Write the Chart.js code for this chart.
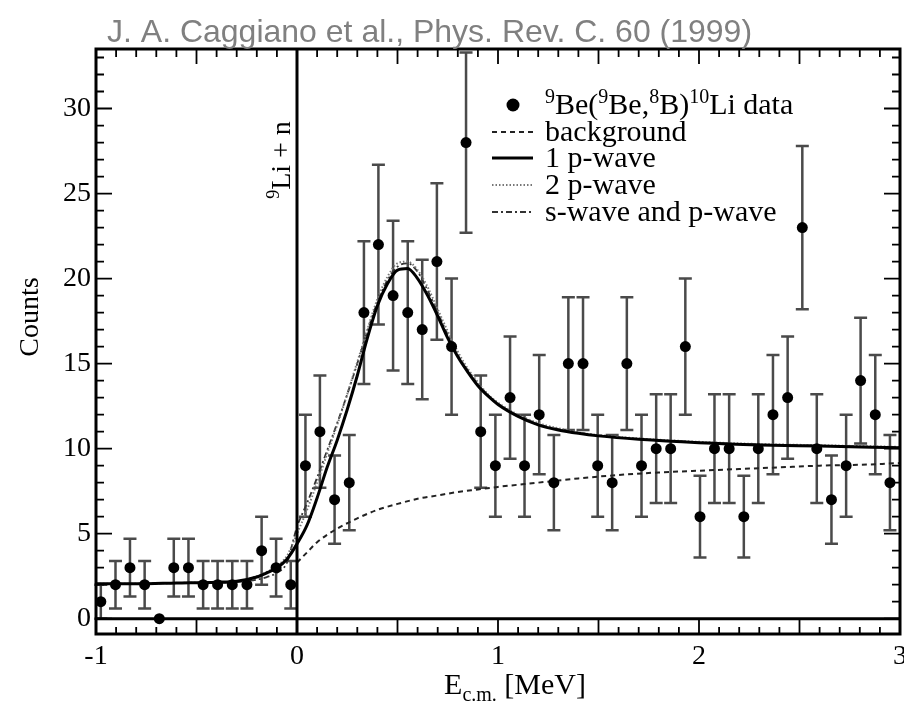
<!DOCTYPE html>
<html lang="en">
<head>
<meta charset="UTF-8">
<title>10Li spectrum</title>
<script src="https://cdn.jsdelivr.net/npm/chart.js@4"></script>
<style>
  body { margin: 0; background: #fff; }
  canvas { display: block; }
</style>
</head>
<body>
<canvas id="spectrum" width="904" height="704"></canvas>
<script>
// measured points (E in MeV, counts, +/- error)
const energy = [-0.976, -0.903, -0.831, -0.758, -0.685, -0.613, -0.540, -0.467, -0.395, -0.322, -0.249, -0.176, -0.104, -0.031,
  0.042, 0.114, 0.187, 0.260, 0.333, 0.405, 0.478, 0.551, 0.623, 0.696, 0.769, 0.841, 0.914, 0.987,
  1.060, 1.132, 1.205, 1.278, 1.350, 1.423, 1.496, 1.568, 1.641, 1.714, 1.787, 1.859, 1.932, 2.005,
  2.077, 2.150, 2.223, 2.295, 2.368, 2.441, 2.514, 2.586, 2.659, 2.732, 2.804, 2.877, 2.950];
const counts = [1, 2, 3, 2, 0, 3, 3, 2, 2, 2, 2, 4, 3, 2,
  9, 11, 7, 8, 18, 22, 19, 18, 17, 21, 16, 28, 11, 9,
  13, 9, 12, 8, 15, 15, 9, 8, 15, 9, 10, 10, 16, 6,
  10, 10, 6, 10, 12, 13, 23, 10, 7, 9, 14, 12, 8];
const errors = [1.0, 1.4, 1.7, 1.4, 0, 1.7, 1.7, 1.4, 1.4, 1.4, 1.4, 2.0, 1.7, 1.4,
  3.0, 3.3, 2.6, 2.8, 4.2, 4.7, 4.4, 4.2, 4.1, 4.6, 4.0, 5.3, 3.3, 3.0,
  3.6, 3.0, 3.5, 2.8, 3.9, 3.9, 3.0, 2.8, 3.9, 3.0, 3.2, 3.2, 4.0, 2.4,
  3.2, 3.2, 2.4, 3.2, 3.5, 3.6, 4.8, 3.2, 2.6, 3.0, 3.7, 3.5, 2.8];

// fit curves
const curveE = [-1.0, -0.8, -0.6, -0.4, -0.3, -0.2, -0.15, -0.1, -0.05, 0, 0.05, 0.1, 0.15, 0.2, 0.25, 0.3, 0.35, 0.4, 0.45, 0.5,
  0.55, 0.6, 0.65, 0.7, 0.75, 0.8, 0.85, 0.9, 0.95, 1.0, 1.1, 1.2, 1.3, 1.4, 1.5, 1.7, 2.0, 2.3, 2.6, 3.0];
const onePWave = [2.05, 2.05, 2.1, 2.15, 2.2, 2.45, 2.7, 3.0, 3.5, 4.4, 5.5, 7.1, 8.9, 10.5, 12.3, 14.3, 16.5, 18.4, 19.7, 20.5,
  20.6, 20.0, 19.0, 17.8, 16.5, 15.4, 14.5, 13.7, 13.1, 12.6, 11.9, 11.4, 11.1, 10.9, 10.75, 10.55, 10.35, 10.22, 10.15, 10.05];
const twoPWave = [2.05, 2.05, 2.1, 2.15, 2.2, 2.5, 2.75, 3.1, 3.7, 5.0, 6.4, 8.0, 9.7, 11.4, 13.2, 15.1, 17.0, 18.8, 20.1, 20.9,
  21.0, 20.5, 19.5, 18.2, 16.9, 15.7, 14.7, 13.9, 13.2, 12.7, 12.0, 11.5, 11.2, 10.95, 10.8, 10.6, 10.4, 10.27, 10.2, 10.1];
const spWave = [2.05, 2.05, 2.1, 2.1, 2.15, 2.3, 2.45, 2.7, 3.3, 5.4, 6.8, 8.3, 9.9, 11.5, 13.2, 15.0, 16.9, 18.6, 19.9, 20.7,
  20.9, 20.4, 19.3, 18.0, 16.7, 15.5, 14.6, 13.8, 13.15, 12.65, 11.95, 11.45, 11.15, 10.92, 10.78, 10.57, 10.37, 10.24, 10.17, 10.07];
const bgE = [0, 0.05, 0.1, 0.2, 0.3, 0.4, 0.5, 0.6, 0.7, 0.8, 0.9, 1.0, 1.2, 1.4, 1.6, 1.8, 2.0, 2.2, 2.4, 2.6, 2.8, 3.0];
const bgCounts = [3.3, 3.9, 4.5, 5.3, 5.9, 6.4, 6.75, 7.05, 7.25, 7.45, 7.6, 7.75, 8.0, 8.25, 8.45, 8.6, 8.7, 8.8, 8.9, 9.0, 9.05, 9.15];

const xTicks = [-1, 0, 1, 2, 3];
const yTicks = [0, 5, 10, 15, 20, 25, 30];

const SERIF = '"Liberation Serif", "DejaVu Serif", serif';
const toXY = (xs, ys) => xs.map((x, i) => ({ x: x, y: ys[i] }));

// text with super/subscripts: parts = [[text, 'n'|'sup'|'sub'], ...]
function richWidth(ctx, parts, size) {
  let w = 0;
  parts.forEach(([t, k]) => {
    ctx.font = (k === 'n' ? size : Math.round(size * 0.65)) + 'px ' + SERIF;
    w += ctx.measureText(t).width;
  });
  return w;
}
function drawRich(ctx, parts, x, y, size) {
  ctx.textBaseline = 'alphabetic';
  ctx.textAlign = 'left';
  parts.forEach(([t, k]) => {
    const s = k === 'n' ? size : Math.round(size * 0.65);
    ctx.font = s + 'px ' + SERIF;
    const dy = k === 'sup' ? -size * 0.38 : (k === 'sub' ? size * 0.22 : 0);
    ctx.fillText(t, x, y + dy);
    x += ctx.measureText(t).width;
  });
}

const errorBars = {
  id: 'errorBars',
  beforeDatasetsDraw(chart) {
    const { ctx } = chart;
    const xs = chart.scales.x, ys = chart.scales.y;
    ctx.save();
    ctx.strokeStyle = '#4a4a4a';
    ctx.lineWidth = 2.5;
    energy.forEach((e, i) => {
      if (!errors[i]) return;
      const px = xs.getPixelForValue(e);
      const y1 = ys.getPixelForValue(counts[i] + errors[i]);
      const y2 = ys.getPixelForValue(Math.max(counts[i] - errors[i], 0));
      ctx.beginPath();
      ctx.moveTo(px, y1); ctx.lineTo(px, y2);
      ctx.moveTo(px - 6.5, y1); ctx.lineTo(px + 6.5, y1);
      ctx.moveTo(px - 6.5, y2); ctx.lineTo(px + 6.5, y2);
      ctx.stroke();
    });
    ctx.restore();
  }
};

const frame = {
  id: 'frame',
  afterDraw(chart) {
    const { ctx } = chart;
    const { left, right, top, bottom } = chart.chartArea;
    const xs = chart.scales.x, ys = chart.scales.y;
    const zeroY = ys.getPixelForValue(0);
    const zeroX = xs.getPixelForValue(0);
    ctx.save();
    ctx.strokeStyle = '#000';
    ctx.lineWidth = 1.8;
    ctx.beginPath();
    // energy ticks, every 0.1 MeV
    for (let i = -10; i <= 30; i++) {
      const px = xs.getPixelForValue(i / 10);
      const major = i % 5 === 0;
      ctx.moveTo(px, bottom); ctx.lineTo(px, major ? zeroY : bottom - 7);
      ctx.moveTo(px, top); ctx.lineTo(px, top + (major ? 15 : 8));
    }
    // count ticks, every 1
    for (let j = 0; j <= 33; j++) {
      const py = ys.getPixelForValue(j);
      const len = j % 5 === 0 ? 16 : 8;
      ctx.moveTo(left, py); ctx.lineTo(left + len, py);
      ctx.moveTo(right, py); ctx.lineTo(right - len, py);
    }
    ctx.stroke();

    ctx.lineWidth = 3;
    ctx.strokeRect(left, top, right - left, bottom - top);
    ctx.beginPath();
    ctx.moveTo(left, zeroY); ctx.lineTo(right, zeroY);
    ctx.moveTo(zeroX, top); ctx.lineTo(zeroX, bottom);
    ctx.stroke();

    // reference title
    ctx.fillStyle = '#808080';
    ctx.font = '32px "Liberation Sans", Arial, sans-serif';
    ctx.textAlign = 'left';
    ctx.textBaseline = 'alphabetic';
    ctx.fillText('J. A. Caggiano et al., Phys. Rev. C. 60 (1999)', 107, 42);

    ctx.fillStyle = '#000';
    // axis titles
    const xt = [['E', 'n'], ['c.m.', 'sub'], [' [MeV]', 'n']];
    const w = richWidth(ctx, xt, 30);
    drawRich(ctx, xt, 515 - w / 2, 694, 30);

    ctx.save();
    ctx.translate(38, 317);
    ctx.rotate(-Math.PI / 2);
    ctx.font = '28px ' + SERIF;
    ctx.textAlign = 'center';
    ctx.fillText('Counts', 0, 0);
    ctx.restore();

    // threshold label
    ctx.save();
    ctx.translate(zeroX - 7, 160);
    ctx.rotate(-Math.PI / 2);
    const th = [['9', 'sup'], ['Li + n', 'n']];
    drawRich(ctx, th, -richWidth(ctx, th, 28) / 2, 0, 28);
    ctx.restore();

    // legend
    const lx = 492, lx2 = 533, tx = 545;
    const rows = [105, 132, 158, 185, 212];
    ctx.beginPath();
    ctx.arc(513, rows[0], 6.5, 0, Math.PI * 2);
    ctx.fill();
    drawRich(ctx, [['9', 'sup'], ['Be(', 'n'], ['9', 'sup'], ['Be,', 'n'], ['8', 'sup'], ['B)', 'n'], ['10', 'sup'], ['Li data', 'n']], tx, rows[0] + 9, 30);
    const sets = chart.data.datasets;
    const legendRows = [[4, 'background'], [1, '1 p-wave'], [2, '2 p-wave'], [3, 's-wave and p-wave']];
    legendRows.forEach(([di, label], k) => {
      const ds = sets[di];
      const y = rows[k + 1];
      ctx.save();
      ctx.strokeStyle = ds.borderColor;
      ctx.lineWidth = ds.borderWidth;
      ctx.setLineDash(ds.borderDash || []);
      ctx.beginPath();
      ctx.moveTo(lx, y); ctx.lineTo(lx2, y);
      ctx.stroke();
      ctx.restore();
      drawRich(ctx, [[label, 'n']], tx, y + 9, 30);
    });
    ctx.restore();
  }
};

const curveStyle = { showLine: true, pointRadius: 0, fill: false, cubicInterpolationMode: 'monotone' };

new Chart(document.getElementById('spectrum'), {
  type: 'scatter',
  data: {
    datasets: [
      { label: 'data', data: toXY(energy, counts), pointRadius: 5.5, pointBackgroundColor: '#000', pointBorderWidth: 0 },
      { label: '1 p-wave', data: toXY(curveE, onePWave), borderColor: '#000', borderWidth: 3, ...curveStyle },
      { label: '2 p-wave', data: toXY(curveE, twoPWave), borderColor: '#777', borderWidth: 2, borderDash: [1.5, 2], ...curveStyle },
      { label: 's-wave and p-wave', data: toXY(curveE, spWave), borderColor: '#333', borderWidth: 1.8, borderDash: [6, 3, 2, 3], ...curveStyle },
      { label: 'background', data: toXY(bgE, bgCounts), borderColor: '#222', borderWidth: 2, borderDash: [5, 4], ...curveStyle }
    ]
  },
  options: {
    responsive: false,
    animation: false,
    layout: { padding: { left: 0, right: 4, top: 49, bottom: 0 }, autoPadding: false },
    plugins: { legend: { display: false }, title: { display: false }, tooltip: { enabled: false } },
    scales: {
      x: {
        type: 'linear', min: -1, max: 3,
        afterBuildTicks: s => { s.ticks = xTicks.map(v => ({ value: v })); },
        afterFit: s => { s.height = 70; s.paddingLeft = 0; s.paddingRight = 0; },
        grid: { display: false, drawTicks: false },
        border: { display: false },
        ticks: { color: '#000', padding: 6, maxRotation: 0, autoSkip: false, font: { family: SERIF, size: 28 } }
      },
      y: {
        type: 'linear', min: -0.9, max: 33.5,
        afterBuildTicks: s => { s.ticks = yTicks.map(v => ({ value: v })); },
        afterFit: s => { s.width = 96; s.paddingTop = 0; s.paddingBottom = 0; },
        grid: { display: false, drawTicks: false },
        border: { display: false },
        ticks: { color: '#000', padding: 5, autoSkip: false, font: { family: SERIF, size: 28 } }
      }
    }
  },
  plugins: [errorBars, frame]
});
</script>
</body>
</html>
